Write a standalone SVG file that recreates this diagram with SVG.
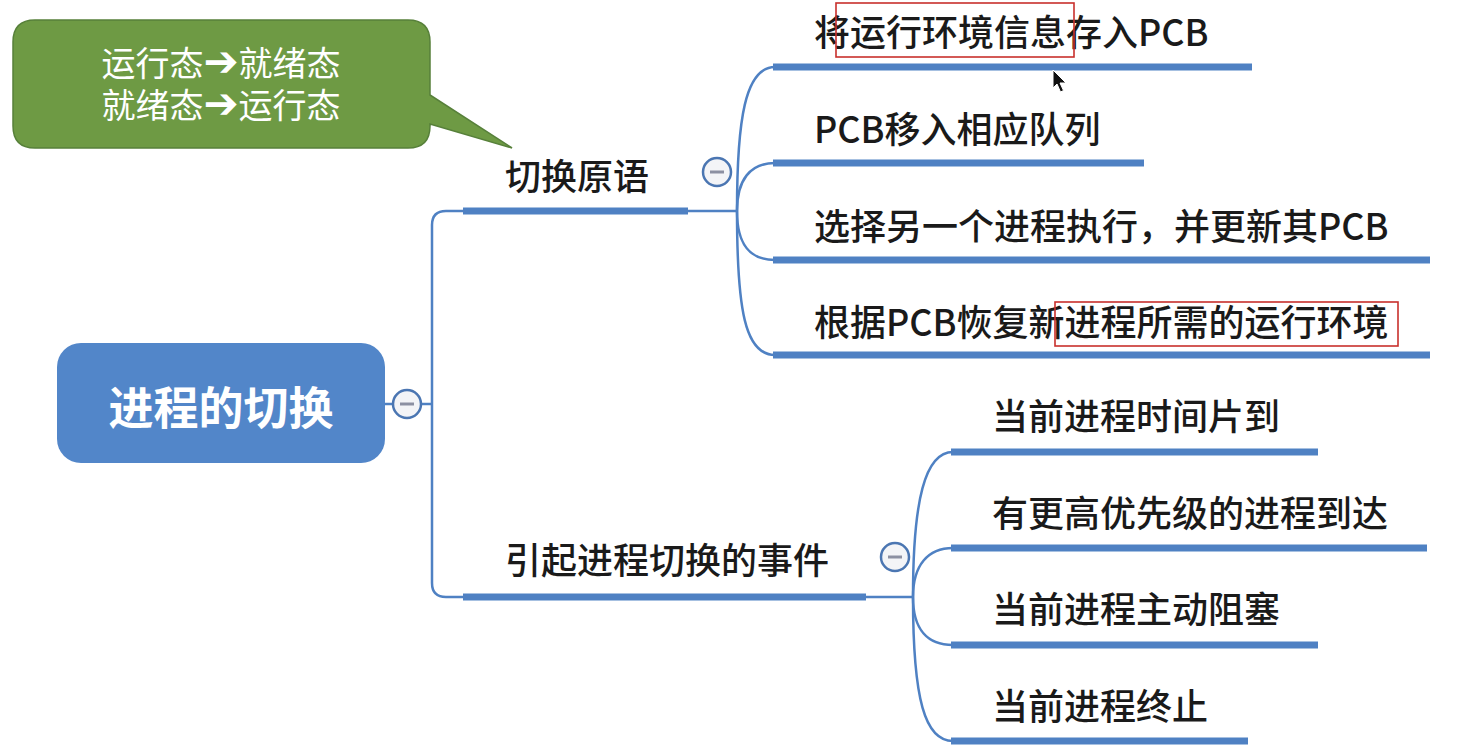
<svg xmlns="http://www.w3.org/2000/svg" width="1472" height="750" viewBox="0 0 1472 750">
<style>
.t{font-family:"Noto Sans CJK SC","Noto Sans",sans-serif;font-size:36px;font-weight:500;fill:#1a1a1a}
.bar{stroke:#4f81c3;stroke-width:7;fill:none}
.ln{stroke:#4f81c3;stroke-width:2.5;fill:none}
.tog circle{fill:#f3f4f7;stroke:#4b76b2;stroke-width:2.5}
.tog line{stroke:#8c90a2;stroke-width:3}
.hl{fill:none;stroke:#c8302c;stroke-width:1.6}
.co{font-family:"Noto Sans CJK SC","Noto Sans",sans-serif;font-size:34px;fill:#ffffff}
.ar{font-family:"DejaVu Sans",sans-serif;font-weight:bold;font-size:42px}
</style>
<rect width="1472" height="750" fill="#ffffff"/>
<g id="connectors">
<line class="ln" x1="385" y1="404" x2="393" y2="404"/>
<line class="ln" x1="421" y1="404" x2="432" y2="404"/>
<path class="ln" d="M463,211 H446 Q432,211 432,225 V583 Q432,597 446,597 H463"/>
<line class="ln" x1="688" y1="211" x2="737" y2="211"/>
<line class="ln" x1="866" y1="597" x2="913" y2="597"/>
<path class="ln" d="M737,211 C737,120 745,67 775,67"/>
<path class="ln" d="M737,211 C737,180 750,163 775,163"/>
<path class="ln" d="M737,211 C737,245 750,260 775,260"/>
<path class="ln" d="M737,211 C737,310 745,355 775,355"/>
<path class="ln" d="M913,597 C913,500 925,452 953,452"/>
<path class="ln" d="M913,597 C913,565 928,548 953,548"/>
<path class="ln" d="M913,597 C913,630 928,645 953,645"/>
<path class="ln" d="M913,597 C913,700 925,741 953,741"/>
</g>
<g id="callout">
<path d="M35,20 H408 Q430,20 430,42 V95 L512,148 L430,124 V126 Q430,148 408,148 H35 Q13,148 13,126 V42 Q13,20 35,20 Z" fill="#6e9a44" stroke="#57803a" stroke-width="1.5"/>
<text class="co" text-anchor="middle"><tspan x="221" y="76">运行态<tspan class="ar">➔</tspan>就绪态</tspan><tspan x="221" y="118">就绪态<tspan class="ar">➔</tspan>运行态</tspan></text>
</g>
<g id="root">
<rect x="57" y="343" width="328" height="120" rx="24" fill="#5286c9"/>
<text x="221" y="425" text-anchor="middle" style="font-family:'Noto Sans CJK SC','Noto Sans',sans-serif;font-size:45px;font-weight:bold;fill:#ffffff">进程的切换</text>
<g class="tog"><circle cx="407" cy="404" r="14"/><line x1="400" y1="404" x2="414" y2="404"/></g>
</g>
<g id="n-primitive">
<line class="bar" x1="463" y1="211" x2="688" y2="211"/>
<text class="t" x="505" y="190">切换原语</text>
<g class="tog"><circle cx="717" cy="172" r="14"/><line x1="710" y1="172" x2="724" y2="172"/></g>
</g>
<g id="n-events">
<line class="bar" x1="463" y1="597" x2="866" y2="597"/>
<text class="t" x="505" y="574">引起进程切换的事件</text>
<g class="tog"><circle cx="895" cy="557" r="14"/><line x1="888" y1="557" x2="902" y2="557"/></g>
</g>
<g id="p1">
<line class="bar" x1="773" y1="67" x2="1252" y2="67"/>
<text class="t" x="814" y="46">将运行环境信息存入PCB</text>
<rect class="hl" x="836" y="3" width="238" height="54"/>
</g>
<g id="p2">
<line class="bar" x1="773" y1="163" x2="1144" y2="163"/>
<text class="t" x="814" y="143">PCB移入相应队列</text>
</g>
<g id="p3">
<line class="bar" x1="773" y1="260" x2="1430" y2="260"/>
<text class="t" x="814" y="240">选择另一个进程执行，并更新其PCB</text>
</g>
<g id="p4">
<line class="bar" x1="773" y1="355" x2="1430" y2="355"/>
<text class="t" x="814" y="336">根据PCB恢复新进程所需的运行环境</text>
<rect class="hl" x="1055" y="302" width="343" height="44"/>
</g>
<g id="e1">
<line class="bar" x1="951" y1="452" x2="1318" y2="452"/>
<text class="t" x="992" y="430">当前进程时间片到</text>
</g>
<g id="e2">
<line class="bar" x1="951" y1="548" x2="1427" y2="548"/>
<text class="t" x="992" y="527">有更高优先级的进程到达</text>
</g>
<g id="e3">
<line class="bar" x1="951" y1="645" x2="1318" y2="645"/>
<text class="t" x="992" y="623">当前进程主动阻塞</text>
</g>
<g id="e4">
<line class="bar" x1="951" y1="741" x2="1248" y2="741"/>
<text class="t" x="992" y="720">当前进程终止</text>
</g>
<path d="M1053,70 L1053,88 L1057,84 L1060.5,92 L1063.5,90.5 L1060,83 L1066,83 Z" fill="#111" stroke="#fff" stroke-width="1"/>
</svg>
